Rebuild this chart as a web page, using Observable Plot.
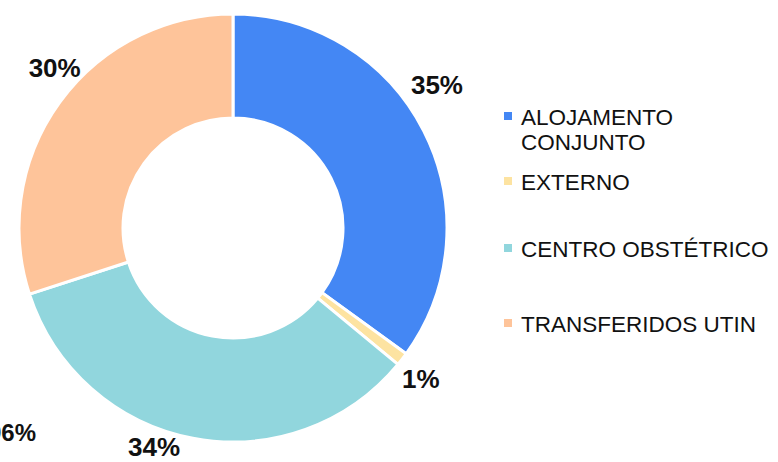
<!DOCTYPE html>
<html><head><meta charset="utf-8">
<script src="https://cdn.jsdelivr.net/npm/d3@7"></script>
<script src="https://cdn.jsdelivr.net/npm/@observablehq/plot@0.6"></script>
<style>body{margin:0;background:#fff;font-family:"Liberation Sans",Arial,sans-serif}</style>
</head><body><div id="chart"></div>
<script>
const categories = ["ALOJAMENTO CONJUNTO", "EXTERNO", "CENTRO OBSTÉTRICO", "TRANSFERIDOS UTIN"];
const legendLines = [["ALOJAMENTO", "CONJUNTO"], ["EXTERNO"], ["CENTRO OBSTÉTRICO"], ["TRANSFERIDOS UTIN"]];
const values = [35, 1, 34, 30];
const labels = ["35%", "1%", "34%", "30%"];
const colors = ["#4487F4", "#FDE3A1", "#91D6DD", "#FEC49A"];
const strayLabel = "0,96%";

const data = categories.map((c, i) => ({category: c, value: values[i], label: labels[i]}));

function donut(index, scales, vals, dims) {
  const svg = d3.create("svg:g").attr("text-anchor", "start");
  const cx = 233, cy = 228, rOuter = 214, rInner = 110;
  const pie = d3.pie().sort(null).value(d => d.value)(data);
  const arc = d3.arc().innerRadius(rInner).outerRadius(rOuter);
  const g = svg.append("g").attr("transform", `translate(${cx},${cy})`);
  g.selectAll("path").data(pie).join("path")
    .attr("d", arc)
    .attr("fill", d => scales.color(d.data.category))
    .attr("stroke", "#fff").attr("stroke-width", 3).attr("stroke-linejoin", "round");
  // label placement: mid-angle with small per-slice nudges, as in the reference
  const nudgeDeg = [-8, 1, 9, 6];
  const labelR = [249, 241, 233, 240];
  g.selectAll("text.l").data(pie).join("text")
    .attr("class", "l")
    .attr("transform", (d, i) => {
      const a = (d.startAngle + d.endAngle) / 2 + nudgeDeg[i] * Math.PI / 180;
      return `translate(${labelR[i] * Math.sin(a)},${-labelR[i] * Math.cos(a)})`;
    })
    .attr("text-anchor", "middle").attr("dy", "0.35em")
    .attr("font-size", 26).attr("font-weight", "bold").attr("fill", "#111")
    .attr("font-family", "Liberation Sans, Arial, sans-serif")
    .text(d => d.data.label);
  g.append("text").attr("x", -197).attr("y", 213).attr("text-anchor", "end")
    .attr("font-size", 24).attr("font-weight", "bold").attr("fill", "#111")
    .attr("font-family", "Liberation Sans, Arial, sans-serif")
    .text(strayLabel);
  // legend
  const leg = svg.append("g").attr("transform", "translate(504,0)");
  const rows = [125, 190, 257, 332];
  categories.forEach((c, i) => {
    leg.append("rect").attr("x", 0).attr("y", rows[i] - 13).attr("width", 8).attr("height", 8)
      .attr("fill", scales.color(c));
    legendLines[i].forEach((t, j) => {
      leg.append("text").attr("x", 17).attr("y", rows[i] + j * 25)
        .attr("text-anchor", "start")
        .attr("font-size", 22.5).attr("fill", "#111")
        .attr("font-family", "Liberation Sans, Arial, sans-serif")
        .text(t);
    });
  });
  return svg.node();
}

const chart = Plot.plot({
  width: 778, height: 462,
  margin: 0,
  x: {axis: null}, y: {axis: null},
  color: {domain: categories, range: colors},
  marks: [donut]
});
document.getElementById("chart").appendChild(chart);
</script></body></html>
